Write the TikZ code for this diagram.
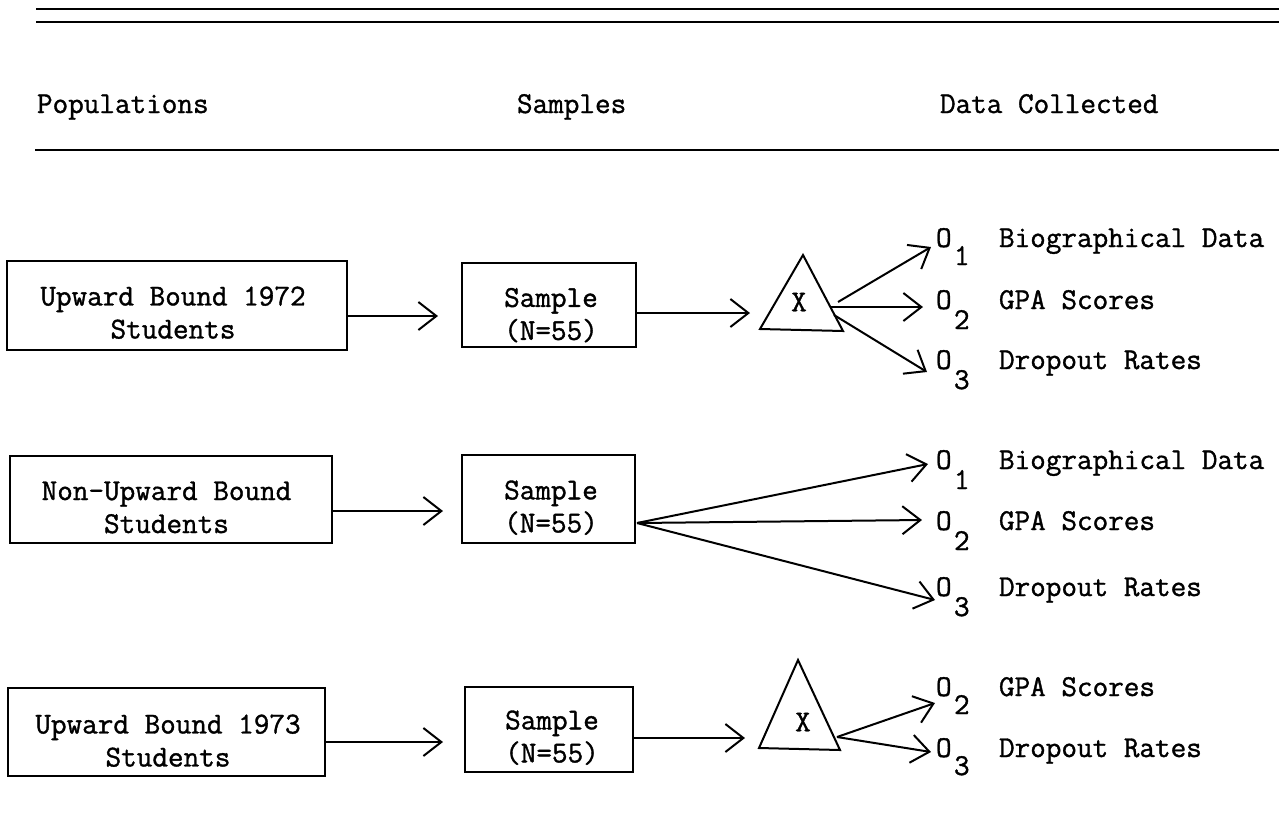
\documentclass[tikz,border=0pt]{standalone}
\usepackage{fontspec}
\newfontfamily\tw{Latin Modern Mono}[FakeBold=1.2]
\usetikzlibrary{arrows.meta}
\begin{document}
\begin{tikzpicture}[x=1pt,y=-1pt,line width=2pt,
  txt/.style={font=\tw\fontsize{30.3}{33}\selectfont,inner sep=0pt,align=center,anchor=north},
  lbl/.style={font=\tw\fontsize{30.3}{33}\selectfont,inner sep=0pt,anchor=base west},
  xl/.style={font=\tw\fontsize{30.3}{33}\selectfont,inner sep=0pt},
  box/.style={draw,line width=2pt,inner sep=0pt},
  arr/.style={-{Straight Barb[length=18pt,width=28pt,line width=2pt]},line width=2pt},
  rule/.style={line width=2.2pt}]
\useasboundingbox (0,0) rectangle (1288,823);
% rules
\coordinate (r1a) at (36,9); \coordinate (r1b) at (1279,9);
\coordinate (r2a) at (36,22); \coordinate (r2b) at (1279,22);
\coordinate (r3a) at (35,150); \coordinate (r3b) at (1279,150);
\draw[rule] (r1a) -- (r1b);
\draw[rule] (r2a) -- (r2b);
\draw[rule] (r3a) -- (r3b);
% headers
\node[lbl] (hp) at (36,113) {Populations};
\node[lbl] (hs) at (516,113) {Samples};
\node[lbl] (hd) at (939,113) {Data Collected};
% ---------- row 1
\node[box,minimum width=340pt,minimum height=89pt] (p1) at (177,305.5) {};
\node[txt] (p1t) at (173,285.5) {Upward Bound 1972\\Students};
\node[box,minimum width=174pt,minimum height=84pt] (s1) at (549,305) {};
\node[txt] (s1t) at (551,287) {Sample\\(N=55)};
\coordinate (t1a) at (803,255); \coordinate (t1l) at (760,329); \coordinate (t1r) at (843,331);
\draw (t1a) -- (t1l) -- (t1r) -- cycle;
\node[xl] (x1) at (799,302) {X};
\coordinate (a1) at (438,316);
\coordinate (a2) at (750,313);
\draw[arr] (p1.east |- a1) -- (a1);
\draw[arr] (s1.east |- a2) -- (a2);
\node[lbl] (o11) at (935,247) {O}; \node[lbl] (o11s) at (953,265) {1};
\node[lbl] (o12) at (935,309) {O}; \node[lbl] (o12s) at (953,329) {2};
\node[lbl] (o13) at (935,369) {O}; \node[lbl] (o13s) at (953,389) {3};
\node[lbl] (d11) at (998,247) {Biographical Data};
\node[lbl] (d12) at (998,309) {GPA Scores};
\node[lbl] (d13) at (998,369) {Dropout Rates};
\coordinate (t1o1) at (838,302); \coordinate (t1o2) at (830,307); \coordinate (t1o3) at (834,315);
\coordinate (e11) at (931,247); \coordinate (e12) at (923,307); \coordinate (e13) at (927,372);
\draw[arr] (t1o1) -- (e11);
\draw[arr] (t1o2) -- (e12);
\draw[arr] (t1o3) -- (e13);
% ---------- row 2
\node[box,minimum width=322pt,minimum height=87pt] (p2) at (171,499.5) {};
\node[txt] (p2t) at (166.5,480.5) {Non-Upward Bound\\Students};
\node[box,minimum width=173pt,minimum height=88pt] (s2) at (548.5,499) {};
\node[txt] (s2t) at (551,479.5) {Sample\\(N=55)};
\coordinate (a3) at (443,511);
\draw[arr] (p2.east |- a3) -- (a3);
\coordinate (s2o) at (637,523);
\node[lbl] (o21) at (935,469) {O}; \node[lbl] (o21s) at (953,489) {1};
\node[lbl] (o22) at (935,530) {O}; \node[lbl] (o22s) at (953,550) {2};
\node[lbl] (o23) at (935,596) {O}; \node[lbl] (o23s) at (953,616) {3};
\node[lbl] (d21) at (998,469) {Biographical Data};
\node[lbl] (d22) at (998,530) {GPA Scores};
\node[lbl] (d23) at (998,596) {Dropout Rates};
\coordinate (e21) at (928,464); \coordinate (e22) at (922,520); \coordinate (e23) at (935,600);
\draw[arr] (s2o) -- (e21);
\draw[arr] (s2o) -- (e22);
\draw[arr] (s2o) -- (e23);
% ---------- row 3
\node[box,minimum width=317pt,minimum height=88pt] (p3) at (166.5,732) {};
\node[txt] (p3t) at (168,713.5) {Upward Bound 1973\\Students};
\node[box,minimum width=168pt,minimum height=85pt] (s3) at (549,729.5) {};
\node[txt] (s3t) at (552,709.5) {Sample\\(N=55)};
\coordinate (t3a) at (798,660); \coordinate (t3l) at (759,748); \coordinate (t3r) at (840,750);
\draw (t3a) -- (t3l) -- (t3r) -- cycle;
\node[xl] (x3) at (803,722) {X};
\coordinate (a4) at (443,742);
\coordinate (a5) at (745,738);
\draw[arr] (p3.east |- a4) -- (a4);
\draw[arr] (s3.east |- a5) -- (a5);
\node[lbl] (o32) at (935,696) {O}; \node[lbl] (o32s) at (953,714) {2};
\node[lbl] (o33) at (935,757) {O}; \node[lbl] (o33s) at (953,775) {3};
\node[lbl] (d32) at (998,696) {GPA Scores};
\node[lbl] (d33) at (998,757) {Dropout Rates};
\coordinate (t3o) at (837,737);
\coordinate (e32) at (935,703); \coordinate (e33) at (931,752);
\draw[arr] (t3o) -- (e32);
\draw[arr] (t3o) -- (e33);
\end{tikzpicture}
\end{document}
